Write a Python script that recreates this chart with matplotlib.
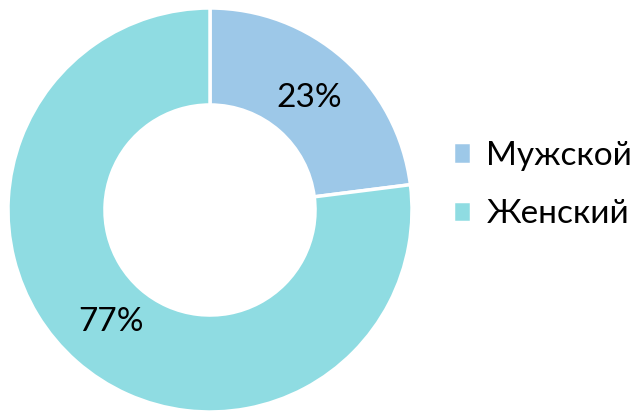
import matplotlib
matplotlib.use('Agg')
import matplotlib.pyplot as plt

labels = ['Мужской', 'Женский']
values = [23, 77]
colors = ['#9DC8E8', '#8FDCE2']

plt.rcParams['font.family'] = ['Lato', 'DejaVu Sans']

fig = plt.figure(figsize=(6.33, 4.11), dpi=100)
ax = fig.add_axes([8 / 633, -1 / 411, 404 / 633, 404 / 411])

wedges, texts, autotexts = ax.pie(
    values, colors=colors, startangle=90, counterclock=False,
    autopct='%1.0f%%', pctdistance=0.74,
    wedgeprops=dict(width=0.48, edgecolor='white', linewidth=2.5),
    textprops=dict(fontsize=24, color='black'))
ax.set_aspect('equal')
ax.set_xlim(-1, 1)
ax.set_ylim(-1, 1)

fig.legend(wedges, labels, loc='center left', bbox_to_anchor=(453 / 633, 0.55),
           frameon=False, fontsize=24, handlelength=0.55, handleheight=0.6,
           handletextpad=0.45, labelspacing=0.85, borderaxespad=0, borderpad=0)

fig.savefig('out.png', dpi=100)
